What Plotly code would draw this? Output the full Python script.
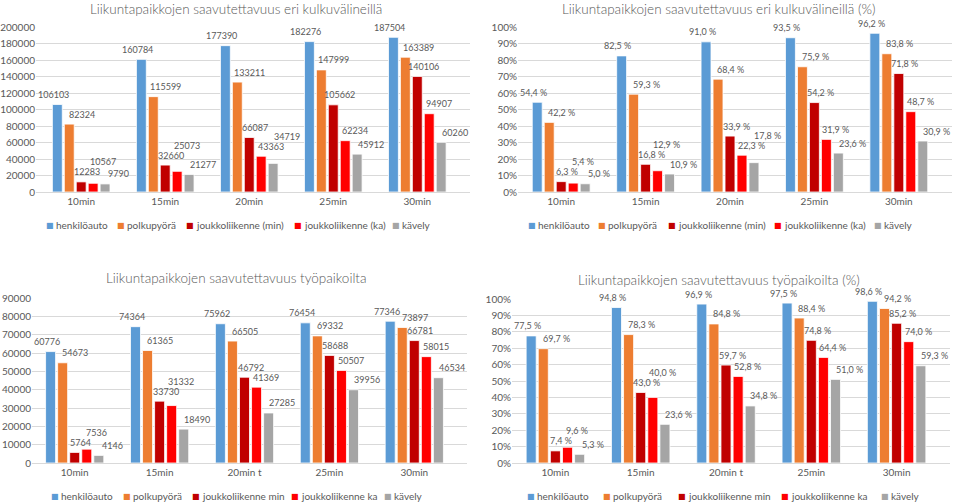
import plotly.graph_objects as go

# ---------------- DATA ----------------
categories_top = ["10min", "15min", "20min", "25min", "30min"]
categories_bottom = ["10min", "15min", "20min t", "25min", "30min"]

names_top = ["henkilöauto", "polkupyörä", "joukkoliikenne (min)", "joukkoliikenne (ka)", "kävely"]
names_bottom = ["henkilöauto", "polkupyörä", "joukkoliikenne min", "joukkoliikenne ka", "kävely"]

# Liikuntapaikkojen saavutettavuus eri kulkuvälineillä (count)
top_auto = [106103, 160784, 177390, 182276, 187504]
top_bike = [82324, 115599, 133211, 147999, 163389]
top_transit_min = [12283, 32660, 66087, 105662, 140106]
top_transit_avg = [10567, 25073, 43363, 62234, 94907]
top_walk = [9790, 21277, 34719, 45912, 60260]

# Liikuntapaikkojen saavutettavuus eri kulkuvälineillä (%)
toppct_auto = [54.4, 82.5, 91.0, 93.5, 96.2]
toppct_bike = [42.2, 59.3, 68.4, 75.9, 83.8]
toppct_transit_min = [6.3, 16.8, 33.9, 54.2, 71.8]
toppct_transit_avg = [5.4, 12.9, 22.3, 31.9, 48.7]
toppct_walk = [5.0, 10.9, 17.8, 23.6, 30.9]

# Liikuntapaikkojen saavutettavuus työpaikoilta (count)
work_auto = [60776, 74364, 75962, 76454, 77346]
work_bike = [54673, 61365, 66505, 69332, 73897]
work_transit_min = [5764, 33730, 46792, 58688, 66781]
work_transit_avg = [7536, 31332, 41369, 50507, 58015]
work_walk = [4146, 18490, 27285, 39956, 46534]

# Liikuntapaikkojen saavutettavuus työpaikoilta (%)
workpct_auto = [77.5, 94.8, 96.9, 97.5, 98.6]
workpct_bike = [69.7, 78.3, 84.8, 88.4, 94.2]
workpct_transit_min = [7.4, 43.0, 59.7, 74.8, 85.2]
workpct_transit_avg = [9.6, 40.0, 52.8, 64.4, 74.0]
workpct_walk = [5.3, 23.6, 34.8, 51.0, 59.3]

# ---------------- STYLE ----------------
W, H = 959, 502
FONT = "Lato"
TXT = "#595959"
GRID = "#D9D9D9"
COLORS = ["#5B9BD5", "#ED7D31", "#C00000", "#FF0000", "#A5A5A5"]
BARGAP = 0.29
BARGROUPGAP = 0.17
LABEL_DX = [-3, 13, 6, 9, 13]
LINE_H = 9.0


def fmt_int(v):
    return str(v)


def fmt_pct(v):
    return f"{v:.1f}".replace(".", ",") + " %"


panels = [
    dict(sfx="", title="Liikuntapaikkojen saavutettavuus eri kulkuvälineillä",
         cats=categories_top, names=names_top,
         series=[top_auto, top_bike, top_transit_min, top_transit_avg, top_walk],
         px_x=(36, 470), px_y=(27, 192), ymax=200000, dtick=20000, suffix="",
         tickformat="d", fmt=fmt_int, char_w=5.0, title_px=(236, 9),
         legend_x=[50, 121, 190, 298, 396], legend_y=225),
    dict(sfx="2", title="Liikuntapaikkojen saavutettavuus eri kulkuvälineillä (%)",
         cats=categories_top, names=names_top,
         series=[toppct_auto, toppct_bike, toppct_transit_min, toppct_transit_avg, toppct_walk],
         px_x=(518, 952), px_y=(27, 192), ymax=100, dtick=10, suffix="%",
         tickformat="d", fmt=fmt_pct, char_w=4.5, title_px=(719, 9),
         legend_x=[532, 602, 672, 778, 878], legend_y=225),
    dict(sfx="3", title="Liikuntapaikkojen saavutettavuus työpaikoilta",
         cats=categories_bottom, names=names_bottom,
         series=[work_auto, work_bike, work_transit_min, work_transit_avg, work_walk],
         px_x=(32, 467), px_y=(298, 463), ymax=90000, dtick=10000, suffix="",
         tickformat="d", fmt=fmt_int, char_w=5.0, title_px=(236, 278),
         legend_x=[55, 127, 196, 295, 388], legend_y=496),
    dict(sfx="4", title="Liikuntapaikkojen saavutettavuus työpaikoilta (%)",
         cats=categories_bottom, names=names_bottom,
         series=[workpct_auto, workpct_bike, workpct_transit_min, workpct_transit_avg, workpct_walk],
         px_x=(512, 950), px_y=(299, 463), ymax=100, dtick=10, suffix="%",
         tickformat="d", fmt=fmt_pct, char_w=4.5, title_px=(719, 280),
         legend_x=[531, 607, 682, 785, 885], legend_y=496),
]

fig = go.Figure()
layout = dict(
    width=W, height=H, margin=dict(l=0, r=0, t=0, b=0, autoexpand=False),
    paper_bgcolor="white", plot_bgcolor="white",
    barmode="group", bargap=BARGAP, bargroupgap=BARGROUPGAP,
    font=dict(family=FONT, color=TXT, size=10),
    showlegend=False,
)
annotations = []

for p in panels:
    sfx = p["sfx"]
    xa, ya = "x" + sfx, "y" + sfx
    for i, (name, vals) in enumerate(zip(p["names"], p["series"])):
        fig.add_trace(go.Bar(
            x=p["cats"], y=vals, name=name, xaxis=xa, yaxis=ya,
            marker=dict(color=COLORS[i], line=dict(color="white", width=0.8)),
        ))
    x0, x1 = p["px_x"]
    ytop, ybot = p["px_y"]
    layout["xaxis" + sfx] = dict(
        domain=[x0 / W, x1 / W], anchor=ya, type="category",
        showgrid=False, showline=True, linecolor=GRID, linewidth=1,
        ticks="", tickfont=dict(size=10, color=TXT), fixedrange=True,
    )
    layout["yaxis" + sfx] = dict(
        domain=[1 - ybot / H, 1 - ytop / H], anchor=xa,
        range=[0, p["ymax"]], dtick=p["dtick"], tick0=0, ticksuffix=p["suffix"],
        tickformat=p["tickformat"],
        showgrid=True, gridcolor=GRID, gridwidth=1, zeroline=False, showline=False,
        ticks="", tickfont=dict(size=10, color=TXT), fixedrange=True,
    )
    tx, ty = p["title_px"]
    annotations.append(dict(
        text=p["title"], xref="paper", yref="paper", x=tx / W, y=1 - ty / H,
        xanchor="center", yanchor="middle", showarrow=False,
        font=dict(size=13.5, color=TXT, family=FONT, weight=300),
    ))

    # legend (coloured square + series name) below each chart
    for i, name in enumerate(p["names"]):
        mx = p["legend_x"][i]
        my = 1 - p["legend_y"] / H
        annotations.append(dict(
            text="■", xref="paper", yref="paper", x=mx / W, y=my,
            xanchor="center", yanchor="middle", showarrow=False,
            font=dict(size=8, color=COLORS[i], family="DejaVu Sans"),
        ))
        annotations.append(dict(
            text=name, xref="paper", yref="paper", x=(mx + 4) / W, y=my,
            xanchor="left", yanchor="middle", showarrow=False,
            font=dict(size=10, color=TXT, family=FONT),
        ))

    # data labels: placed above each bar, pushed up if overlapping a neighbour
    plot_w = x1 - x0
    plot_h = ybot - ytop
    cat_px = plot_w / len(p["cats"])
    slot = cat_px * (1 - BARGAP) / len(p["series"])
    for j, cat in enumerate(p["cats"]):
        placed = []
        for i, vals in enumerate(p["series"]):
            v = vals[j]
            txt = p["fmt"](v)
            bar_top = v / p["ymax"] * plot_h
            cx = (i - 2) * slot + LABEL_DX[i]
            cy = bar_top + 10
            w = len(txt) * p["char_w"]
            for _ in range(10):
                hit = None
                for (qx, qy, qw) in placed:
                    if abs(cx - qx) < (w + qw) / 2 - 0.01 and abs(cy - qy) < LINE_H - 0.01:
                        hit = qy
                        break
                if hit is None:
                    break
                cy = hit + LINE_H + 1
            placed.append((cx, cy, w))
            annotations.append(dict(
                text=txt, x=cat, y=v, xref=xa, yref=ya, showarrow=False,
                xanchor="center", yanchor="middle",
                xshift=round(cx, 1), yshift=round(cy - bar_top, 1),
                font=dict(size=9, color=TXT, family=FONT),
            ))

layout["annotations"] = annotations
fig.update_layout(**layout)

fig.write_html(
    "out.html",
    config={"displayModeBar": False},
    post_script="document.body.style.margin='0';document.body.style.overflow='hidden';",
)
